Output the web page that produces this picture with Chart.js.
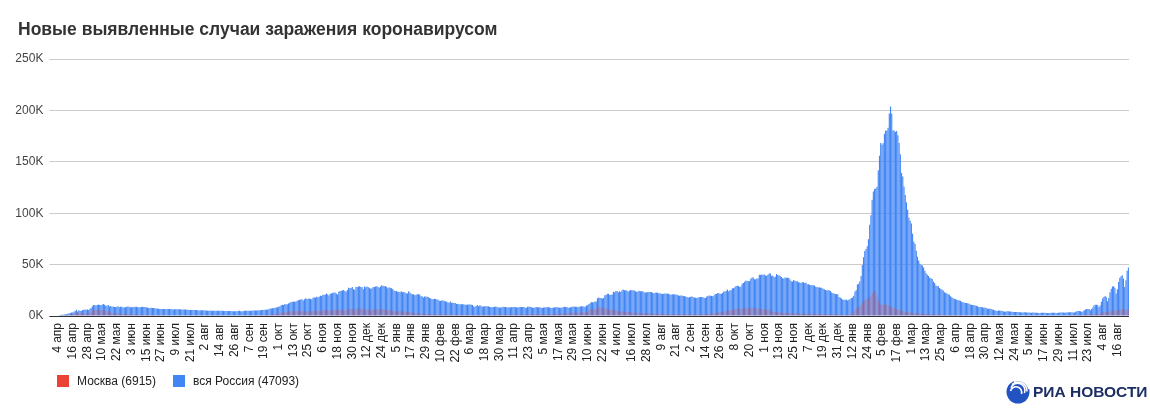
<!DOCTYPE html>
<html>
<head>
<meta charset="utf-8">
<script src="https://cdn.jsdelivr.net/npm/chart.js@4.4.1/dist/chart.umd.min.js"></script>
<style>
  body { margin: 0; background: #fff; font-family: "Liberation Sans", Arial, sans-serif; }
  #wrap { position: relative; width: 1150px; height: 410px; overflow: hidden; }
  #c { position: absolute; left: 0; top: 0; }
  #title { position: absolute; left: 18px; top: 19px; font-size: 17.5px; font-weight: bold; color: #333; white-space: nowrap; }
  .leg { position: absolute; top: 374px; font-size: 12px; color: #222; white-space: nowrap; }
  .leg i { display: inline-block; width: 12px; height: 12px; vertical-align: -2px; margin-right: 8px; }
  #logo { position: absolute; left: 1006px; top: 379px; }
  #logo span { position: absolute; left: 27px; top: 4px; font-size: 15.5px; font-weight: bold; color: #1c2d63; white-space: nowrap; }
</style>
</head>
<body>
<div id="wrap">
  <canvas id="c" width="1150" height="410"></canvas>
  <div id="title">Новые выявленные случаи заражения коронавирусом</div>
  <div class="leg" style="left:57px"><i style="background:#ea4335"></i>Москва (6915)</div>
  <div class="leg" style="left:173px"><i style="background:#4285f4"></i>вся Россия (47093)</div>
  <div id="logo">
    <svg width="26" height="26" viewBox="0 0 26 26">
      <circle cx="12" cy="13" r="11.5" fill="#2353c3"/>
      <path d="M8 2.5 A11 11 0 0 1 23 10" stroke="#fff" stroke-width="1.6" fill="none"/>
      <path d="M6 5.5 A9 9 0 0 1 21 12.5" stroke="#fff" stroke-width="1.6" fill="none"/>
      <path d="M5 8.8 A7 7 0 0 1 18.5 14" stroke="#fff" stroke-width="1.6" fill="none"/>
      <path d="M4.5 12 A5 5 0 0 1 15.5 15" stroke="#fff" stroke-width="1.6" fill="none"/>
    </svg>
    <span>РИА НОВОСТИ</span>
  </div>
</div>
<script>
// daily new cases, thousands, from 4 Apr 2020; one row per month
var ru2020 = [
  0.6,0.7,1.0,1.2,1.2,1.5,1.8,1.7,2.2,2.6,2.8,3.4,3.4,4.1,4.8,6.1,4.3,5.6,5.2,4.8,5.8,6.0,6.4,6.2,6.4,5.8,7.1,
  7.9,9.6,10.6,10.6,10.1,10.6,11.2,10.7,10.8,11.0,11.7,10.9,10.0,10.0,10.6,9.2,9.7,8.9,9.3,8.8,8.8,8.9,9.4,8.6,9.0,8.9,8.3,8.4,8.6,9.0,9.3,
  9.0,8.5,8.5,8.8,8.7,8.9,9.0,8.6,8.6,8.4,8.8,9.0,8.7,8.8,8.2,8.2,7.8,7.8,8.0,7.9,7.7,7.6,7.4,7.2,7.1,6.8,6.9,6.8,6.7,6.7,
  6.6,6.8,6.8,6.7,6.7,6.6,6.4,6.6,6.5,6.6,6.6,6.6,6.5,6.2,6.4,6.4,6.4,6.2,6.1,5.9,5.8,5.9,5.8,5.8,5.9,5.8,5.6,5.4,5.5,5.5,5.5,
  5.5,5.4,5.4,5.2,5.2,5.3,5.2,5.2,5.2,5.1,5.0,5.1,5.1,5.1,5.1,5.0,4.8,4.8,4.8,4.8,4.9,4.9,4.9,4.7,4.7,4.7,4.7,4.7,5.0,5.0,4.7,
  4.7,4.7,5.0,5.0,5.2,5.2,5.2,5.1,5.1,5.4,5.3,5.4,5.4,5.5,5.5,5.7,5.9,5.9,6.1,6.1,6.2,6.4,6.6,7.2,7.2,7.5,7.9,8.1,8.2,8.5,
  9.0,9.4,10.5,10.9,10.8,11.6,11.1,11.5,12.1,12.8,13.6,13.9,13.9,14.2,13.8,14.9,15.2,15.7,16.0,16.3,15.0,16.2,17.3,16.5,16.7,17.1,16.6,16.2,17.7,18.3,17.7,
  18.7,18.3,18.7,19.8,19.4,20.6,20.5,21.0,21.8,21.0,19.9,21.6,22.0,22.7,22.6,22.8,22.0,21.0,23.6,24.3,24.6,24.8,25.2,24.3,23.7,25.4,27.5,27.1,27.3,28.3,
  26.3,25.4,28.1,28.2,28.8,29.0,28.1,27.9,26.1,28.6,27.9,28.6,28.1,27.3,26.4,26.9,27.9,28.2,28.6,29.0,28.1,27.6,28.6,29.9,29.5,29.0,29.2,28.3,26.9,27.7,27.4
];
var ru2021 = [
  27.0,26.3,24.7,24.2,24.2,23.5,23.6,23.0,24.0,23.0,23.3,22.9,22.2,22.0,24.1,22.9,21.6,21.2,21.1,20.3,20.6,21.1,21.1,20.9,19.3,19.1,18.0,19.0,19.0,18.7,18.4,
  17.6,17.0,16.6,16.4,16.7,16.6,16.0,15.9,14.9,14.5,15.4,15.0,14.9,14.2,14.2,13.2,12.8,14.1,12.8,13.0,12.7,12.6,11.7,11.8,11.4,11.5,11.5,11.5,
  11.4,11.0,11.0,11.3,11.0,11.5,11.0,10.6,9.3,9.1,9.8,10.6,9.4,10.4,9.9,9.0,9.3,9.6,9.5,9.6,9.4,8.7,8.7,8.4,8.8,9.1,9.1,8.9,8.3,8.2,8.2,
  8.5,9.0,8.8,8.7,8.6,8.3,8.4,8.3,8.8,8.7,8.7,8.7,8.2,8.3,8.7,8.7,8.8,8.7,8.7,8.0,8.1,9.0,8.9,8.9,8.8,8.0,8.0,8.3,8.8,8.4,
  8.4,8.6,8.0,7.8,8.2,8.4,8.3,8.7,8.4,8.6,7.8,7.9,8.2,8.2,8.8,8.6,8.6,8.0,8.0,8.2,8.6,8.9,8.7,8.8,8.1,8.0,8.6,8.9,9.1,9.3,9.0,
  8.9,8.6,9.0,9.3,9.5,9.6,9.0,9.0,10.2,10.4,11.7,12.5,13.7,13.4,13.4,14.1,14.0,17.3,17.9,17.6,17.4,16.7,17.6,20.2,20.5,21.7,21.7,20.5,20.6,21.0,
  23.5,23.2,24.4,24.4,23.2,24.0,23.3,25.1,25.8,25.1,25.0,24.7,23.8,24.5,25.3,25.0,25.0,24.7,24.0,23.6,23.8,24.5,24.1,24.1,24.0,23.2,22.8,22.9,23.3,23.3,23.3,
  23.3,22.6,22.1,22.6,22.8,22.6,22.1,22.1,21.7,21.4,21.7,21.9,22.0,21.6,21.6,20.9,20.6,21.1,21.1,21.0,20.9,20.6,20.0,19.6,20.0,20.0,19.5,19.3,18.9,18.6,18.0,
  18.3,18.8,18.9,18.6,18.1,17.8,17.4,18.0,18.3,18.6,18.6,18.2,17.8,17.5,18.8,19.6,19.6,19.9,19.4,19.3,19.9,21.4,21.4,22.3,22.1,21.6,21.6,22.4,23.9,23.9,
  24.5,25.8,24.0,25.0,25.1,27.0,27.0,27.9,29.1,29.4,29.1,28.2,28.7,31.3,32.2,33.2,34.3,34.3,33.7,34.1,36.3,37.1,37.7,35.7,35.7,36.4,36.6,40.1,40.0,40.3,40.2,
  40.4,39.4,39.2,40.2,41.3,41.3,39.2,39.2,38.0,38.1,40.8,40.0,39.3,39.2,37.9,36.8,36.6,37.4,37.2,37.1,37.1,35.6,33.9,33.6,35.0,34.4,33.9,33.7,32.9,32.6,
  32.1,32.9,32.9,32.1,32.6,30.8,30.8,30.4,30.0,30.1,29.6,29.6,28.5,28.1,27.8,28.0,27.5,27.4,26.5,26.1,25.3,24.8,25.2,24.8,24.3,22.8,22.2,21.9,21.4,21.2,21.1
];
var ru2022 = [
  18.6,18.0,17.0,16.0,15.9,15.6,16.1,15.1,15.8,16.2,17.5,17.9,19.7,23.8,25.1,30.7,31.3,33.9,38.9,49.5,57.2,63.2,65.1,67.8,74.7,88.8,98.0,113.1,121.2,123.5,124.1,
  125.8,141.9,155.8,168.2,166.6,168.0,177.3,180.1,180.5,183.1,197.1,203.9,197.0,180.5,180.5,179.1,180.0,175.8,168.2,157.4,139.0,135.8,126.0,117.8,110.7,103.4,95.6,92.7,
  90.0,80.0,72.3,70.0,63.5,57.7,53.9,50.9,49.7,49.1,47.3,44.0,41.7,40.1,38.9,37.1,36.7,35.9,33.5,32.2,29.6,29.1,28.9,27.3,26.3,25.6,24.7,23.0,22.6,22.0,21.1,
  20.6,19.3,18.2,17.2,16.9,16.3,15.8,15.6,15.0,14.8,13.9,13.3,13.2,12.7,12.6,12.4,12.0,11.2,10.9,10.8,10.6,10.1,9.9,9.4,8.6,8.8,8.7,8.6,8.1,8.2,
  7.7,7.2,6.9,7.2,6.7,6.4,6.2,5.7,5.1,4.8,5.3,5.4,5.0,4.9,4.6,4.1,4.4,4.6,4.6,4.4,4.3,4.2,3.9,3.8,4.0,4.0,3.9,3.7,3.6,3.4,3.5,
  3.6,3.6,3.5,3.4,3.3,3.1,3.2,3.3,3.3,3.2,3.2,3.1,2.9,3.0,3.1,3.1,3.1,3.1,3.0,2.8,2.9,3.0,3.2,3.2,3.1,3.1,2.9,2.9,3.1,3.3,
  3.3,3.3,3.3,3.1,3.3,3.5,3.6,3.7,3.7,3.6,3.3,3.5,4.1,4.5,4.8,4.8,4.6,4.0,4.6,5.6,6.4,6.9,6.9,6.7,5.6,6.7,8.3,10.1,11.0,11.0,10.4,
  8.4,10.2,13.8,17.0,18.6,19.4,18.3,14.4,17.4,23.1,26.6,28.8,29.0,27.4,21.8,26.1,33.1,37.1,38.6,39.6,36.4,28.1,34.7,44.0,47.1
];

var msk2020 = [
  0.5,0.5,0.6,0.7,0.7,0.9,1.1,1.0,1.4,1.4,1.5,1.8,1.7,2.2,2.6,3.6,2.2,2.9,2.6,2.3,2.8,2.6,2.9,2.6,2.7,2.2,3.1,
  3.6,5.4,6.0,5.8,5.8,5.9,6.7,5.8,5.7,5.4,6.2,5.6,4.8,4.3,4.8,3.5,3.2,2.8,2.7,2.3,2.6,2.9,2.3,2.2,2.2,2.3,1.8,2.1,2.1,2.0,2.3,
  2.0,1.8,1.8,1.5,1.6,1.6,1.6,1.6,1.5,1.2,1.3,1.4,1.4,1.2,1.1,1.1,1.0,1.1,1.1,1.1,1.0,1.1,0.9,0.8,0.8,0.7,0.7,0.7,0.6,0.6,
  0.6,0.7,0.7,0.7,0.7,0.6,0.6,0.6,0.6,0.6,0.6,0.6,0.6,0.6,0.6,0.6,0.6,0.6,0.6,0.7,0.7,0.7,0.7,0.7,0.7,0.7,0.7,0.7,0.7,0.7,0.7,
  0.7,0.7,0.7,0.7,0.7,0.7,0.7,0.7,0.7,0.7,0.7,0.7,0.7,0.7,0.7,0.6,0.6,0.6,0.6,0.6,0.6,0.6,0.6,0.6,0.6,0.6,0.6,0.6,0.6,0.6,0.6,
  0.6,0.6,0.6,0.6,0.6,0.7,0.7,0.7,0.7,0.7,0.7,0.7,0.7,0.8,0.8,0.9,1.0,1.0,1.0,1.0,1.0,1.1,1.2,1.6,1.6,1.8,2.0,2.1,2.2,2.4,
  2.7,3.0,3.5,3.5,3.2,4.0,3.9,4.1,4.6,4.4,4.5,4.6,4.8,4.8,4.4,4.8,5.0,4.9,5.0,5.4,4.0,4.2,5.2,4.3,4.9,5.1,4.4,4.6,4.9,5.0,4.9,
  5.5,4.6,4.4,4.6,4.6,5.5,6.0,6.0,5.9,5.8,4.9,5.5,5.8,6.0,6.0,5.9,5.7,5.2,6.4,6.4,6.4,6.0,5.9,5.6,5.0,6.0,7.2,7.0,6.7,7.0,
  6.3,5.7,6.8,7.2,7.0,8.0,7.5,6.9,5.2,6.4,5.8,6.6,6.3,5.6,5.3,5.4,6.3,6.4,6.9,7.0,6.4,5.9,6.6,7.8,6.9,6.5,6.2,5.9,5.0,5.3,5.8
];
var msk2021 = [
  5.5,5.6,4.5,4.3,4.4,4.4,4.5,4.6,5.0,4.5,4.4,4.3,4.0,4.0,4.1,3.9,3.4,3.1,2.9,2.7,2.7,2.9,2.9,2.6,2.2,2.1,2.0,2.0,2.1,2.0,2.0,
  1.9,1.8,1.9,1.9,1.8,1.8,1.7,1.6,1.5,1.6,1.7,1.6,1.6,1.5,1.4,1.5,1.4,1.3,1.3,1.4,1.3,1.2,1.1,1.3,1.3,1.3,1.3,1.3,
  1.3,1.2,1.1,1.2,1.2,1.2,1.2,1.2,1.0,1.0,1.1,1.3,1.2,1.2,1.1,1.0,1.2,1.2,1.2,1.2,1.2,1.0,1.1,1.0,1.1,1.2,1.2,1.2,1.1,1.1,1.1,
  1.4,1.5,1.4,1.4,1.3,1.3,1.4,1.3,1.5,1.5,1.5,1.5,1.3,1.4,1.5,1.6,1.7,1.6,1.6,1.4,1.5,2.0,2.0,1.9,1.8,1.5,1.6,1.7,2.0,1.8,
  1.8,1.8,1.5,1.6,1.7,1.8,1.8,1.9,1.8,1.8,1.6,1.7,1.8,2.0,2.4,2.3,2.2,2.0,2.0,2.2,2.5,2.9,2.7,2.6,2.4,2.5,2.8,3.1,3.3,3.2,2.9,
  2.9,2.8,3.0,3.3,3.7,3.9,3.2,3.2,4.1,4.1,5.4,6.7,6.7,6.4,6.7,6.6,6.6,9.1,9.1,8.6,7.9,7.4,6.9,7.4,7.3,7.3,7.3,6.4,5.9,5.9,
  6.5,5.5,5.6,5.0,4.6,4.5,4.2,4.5,4.6,4.3,4.1,4.1,3.8,3.6,3.6,3.5,3.5,3.2,3.1,3.0,3.0,3.1,3.0,3.0,2.8,2.7,2.6,2.5,2.5,2.6,2.6,
  2.4,2.3,2.2,2.3,2.2,2.3,2.2,2.2,2.2,2.1,2.0,2.1,2.0,2.0,2.0,1.9,1.9,1.8,1.9,1.9,1.9,1.8,1.7,1.7,1.7,1.7,1.6,1.6,1.6,1.6,1.5,
  1.6,1.6,1.5,1.6,1.5,1.5,1.5,1.6,1.8,1.9,2.0,2.0,1.8,1.9,2.0,2.2,2.3,2.4,2.6,2.4,2.5,2.8,3.1,3.4,3.6,3.6,3.3,3.5,4.2,4.3,
  4.9,5.4,5.5,5.4,5.5,6.0,6.2,6.5,7.2,7.4,7.2,6.2,6.7,7.3,7.6,7.9,8.0,7.6,7.2,7.2,7.8,7.9,8.4,7.8,8.2,7.4,7.1,7.3,7.0,7.0,6.8,
  6.8,6.5,5.8,5.7,6.0,5.6,4.4,4.2,3.9,3.8,3.8,3.7,3.7,3.4,3.2,3.1,3.0,3.1,3.1,3.0,2.9,2.8,2.8,2.8,2.9,2.8,2.7,2.7,2.5,2.5,
  2.5,2.5,2.4,2.3,2.3,2.3,2.2,2.2,2.2,2.2,2.1,2.1,2.0,2.0,2.0,2.0,2.0,1.9,1.9,1.9,1.8,1.8,1.8,1.8,1.8,1.7,1.7,1.6,1.6,1.6,1.6
];
var msk2022 = [
  1.5,1.5,1.4,1.3,1.3,1.3,1.3,1.4,1.6,1.8,2.3,3.0,3.6,5.5,7.0,8.5,9.0,9.9,11.2,13.0,14.2,15.1,16.1,16.5,17.0,18.6,20.0,22.0,23.5,24.6,25.0,
  20.0,15.0,12.0,11.0,11.0,11.2,12.0,11.8,11.0,10.2,9.5,8.8,8.3,8.0,7.6,7.2,6.8,6.4,6.0,5.6,5.2,4.9,4.6,4.3,4.0,3.8,3.6,3.5,
  3.3,3.1,2.9,2.8,2.6,2.5,2.4,2.3,2.2,2.2,2.1,2.0,2.0,1.9,1.8,1.8,1.7,1.7,1.6,1.6,1.5,1.5,1.5,1.4,1.4,1.4,1.3,1.3,1.3,1.2,1.2,
  1.2,1.1,1.1,1.1,1.0,1.0,1.0,1.0,0.9,0.9,0.9,0.9,0.9,0.8,0.8,0.8,0.8,0.8,0.8,0.8,0.7,0.7,0.7,0.7,0.7,0.7,0.7,0.7,0.7,0.7,
  0.7,0.7,0.6,0.6,0.6,0.6,0.6,0.6,0.6,0.5,0.5,0.5,0.5,0.5,0.5,0.5,0.5,0.5,0.5,0.5,0.5,0.5,0.5,0.5,0.5,0.5,0.5,0.5,0.5,0.5,0.5,
  0.5,0.5,0.5,0.5,0.5,0.5,0.5,0.5,0.5,0.5,0.5,0.5,0.5,0.5,0.5,0.5,0.5,0.5,0.5,0.5,0.5,0.5,0.5,0.5,0.5,0.5,0.5,0.5,0.6,0.6,
  0.6,0.6,0.6,0.6,0.6,0.6,0.7,0.7,0.7,0.7,0.7,0.7,0.8,0.9,1.0,1.0,1.0,1.0,1.1,1.2,1.4,1.5,1.5,1.5,1.4,1.6,1.9,2.1,2.3,2.3,2.2,
  2.1,2.4,3.0,3.5,3.8,3.9,3.8,3.4,3.8,4.6,5.1,5.5,5.6,5.3,4.6,5.2,6.0,6.5,6.6,6.8,6.4,5.4,6.0,6.6,6.9
];

// every 12th day gets a label
var tickLabels = [
  '4 апр','16 апр','28 апр','10 мая','22 мая','3 июн','15 июн','27 июн','9 июл','21 июл','2 авг','14 авг','26 авг',
  '7 сен','19 сен','1 окт','13 окт','25 окт','6 ноя','18 ноя','30 ноя','12 дек','24 дек','5 янв','17 янв','29 янв',
  '10 фев','22 фев','6 мар','18 мар','30 мар','11 апр','23 апр','5 мая','17 мая','29 мая','10 июн','22 июн','4 июл',
  '16 июл','28 июл','9 авг','21 авг','2 сен','14 сен','26 сен','8 окт','20 окт','1 ноя','13 ноя','25 ноя','7 дек',
  '19 дек','31 дек','12 янв','24 янв','5 фев','17 фев','1 мар','13 мар','25 мар','6 апр','18 апр','30 апр','12 мая',
  '24 мая','5 июн','17 июн','29 июн','11 июл','23 июл','4 авг','16 авг'
];

var russia = ru2020.concat(ru2021, ru2022);
var moscow = msk2020.concat(msk2021, msk2022);
var days = russia.map(function(v, i) { return i; });

var font = 'Liberation Sans, Arial, sans-serif';

new Chart(document.getElementById('c'), {
    type: 'bar',
    data: {
        labels: days,
        datasets: [{
            label: 'вся Россия',
            data: russia,
            backgroundColor: '#4285f4',
            barPercentage: 0.92,
            categoryPercentage: 1,
            grouped: false,
            order: 2
        }, {
            label: 'Москва',
            data: moscow,
            backgroundColor: 'rgba(234, 67, 53, 0.75)',
            barPercentage: 0.35,
            categoryPercentage: 1,
            grouped: false,
            order: 1
        }]
    },
    options: {
        responsive: false,
        animation: false,
        events: [],
        layout: { padding: { left: 0, right: 21, top: 59, bottom: 0 } },
        plugins: { legend: { display: false }, tooltip: { enabled: false } },
        scales: {
            x: {
                grid: { display: false, drawTicks: false },
                border: { display: false },
                ticks: {
                    autoSkip: false,
                    minRotation: 90,
                    maxRotation: 90,
                    padding: 7,
                    color: '#222',
                    font: { family: font, size: 12 },
                    callback: function(v, i) { return i % 12 === 0 ? tickLabels[i / 12] : ''; }
                },
                afterFit: function(s) { s.height = 94; }
            },
            y: {
                min: 0,
                max: 250,
                border: { display: false },
                grid: {
                    tickLength: 8,
                    color: function(c) { return c.tick.value === 0 ? '#333' : '#ccc'; },
                    lineWidth: 1
                },
                ticks: {
                    stepSize: 50,
                    padding: 6,
                    color: '#444',
                    font: { family: font, size: 12 },
                    callback: function(v) { return v + 'K'; }
                },
                afterFit: function(s) { s.width = 57.4; }
            }
        }
    }
});
</script>
</body>
</html>
